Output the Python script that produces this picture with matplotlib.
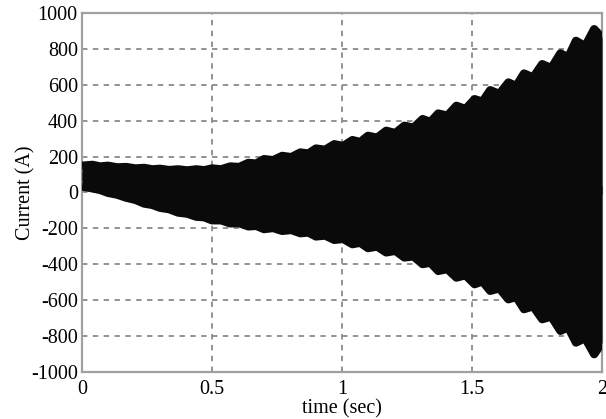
import numpy as np
import matplotlib.pyplot as plt
from matplotlib.transforms import offset_copy

plt.rcParams['font.family'] = ['Liberation Serif', 'DejaVu Serif']
plt.rcParams['axes.unicode_minus'] = False

# beat instants (s) where the envelope bulges outward
beat_t = [0.04, 0.10, 0.17, 0.24, 0.30, 0.37, 0.44, 0.50, 0.57, 0.64,
          0.70, 0.77, 0.84, 0.90, 0.97, 1.04, 1.10, 1.17, 1.24, 1.31,
          1.37, 1.44, 1.51, 1.57, 1.64, 1.70, 1.77, 1.84, 1.90, 1.97]
upper_bulge = [177, 172, 165, 160, 155, 152, 152, 157, 168, 188,
               209, 227, 246, 268, 292, 315, 339, 367, 395, 432,
               463, 506, 543, 593, 636, 686, 738, 798, 868, 933]
lower_bulge = [0, -25, -52, -85, -108, -135, -158, -178, -195, -212,
               -227, -237, -250, -268, -287, -311, -333, -357, -385, -422,
               -460, -497, -534, -571, -618, -673, -729, -794, -859, -924]

# instants (s) of the cusps between the bulges
dip_t = [0.07, 0.135, 0.205, 0.27, 0.335, 0.405, 0.47, 0.535, 0.605, 0.67,
         0.735, 0.805, 0.87, 0.935, 1.005, 1.07, 1.135, 1.205, 1.275, 1.34,
         1.405, 1.475, 1.54, 1.605, 1.67, 1.735, 1.805, 1.87, 1.935]
upper_dip = [168, 163, 157, 152, 148, 146, 147, 152, 165, 184,
             203, 220, 240, 261, 282, 304, 328, 354, 384, 416,
             451, 488, 529, 572, 616, 664, 716, 776, 838]
lower_dip = [-9, -35, -64, -92, -116, -141, -161, -178, -194, -209,
             -221, -232, -246, -263, -282, -303, -324, -348, -379, -414,
             -450, -484, -518, -557, -605, -657, -714, -774, -834]

# values at the two ends of the record
end_t = [0.0, 2.0]
upper_end = [172, 887]
lower_end = [10, -860]

# merge bulges and cusps into one outline per side
t_all = np.array(end_t + beat_t + dip_t)
order = np.argsort(t_all)
t_env = t_all[order]
up_env = np.array(upper_end + upper_bulge + upper_dip)[order]
lo_env = np.array(lower_end + lower_bulge + lower_dip)[order]
mid_env = (up_env + lo_env) / 2

fig = plt.figure(figsize=(6.06, 4.19), dpi=100)
ax = fig.add_axes([0.1353, 0.1122, 0.8581, 0.8568])

# thick round-joined outline gives the rounded bulges; shift it inward by half its width
lw = 6.0
ink = '#0a0a0a'
tr_up = offset_copy(ax.transData, fig=fig, y=-lw / 2, units='points')
tr_lo = offset_copy(ax.transData, fig=fig, y=lw / 2, units='points')
ax.fill_between(t_env, mid_env, up_env, color=ink, lw=0, transform=tr_up, zorder=3)
ax.fill_between(t_env, lo_env, mid_env, color=ink, lw=0, transform=tr_lo, zorder=3)
ax.plot(t_env, up_env, color=ink, lw=lw, solid_joinstyle='round',
        solid_capstyle='butt', transform=tr_up, zorder=3)
ax.plot(t_env, lo_env, color=ink, lw=lw, solid_joinstyle='round',
        solid_capstyle='butt', transform=tr_lo, zorder=3)

ax.set_xlim(0, 2)
ax.set_ylim(-1000, 1000)
ax.set_xticks([0, 0.5, 1, 1.5, 2])
ax.set_xticklabels(['0', '0.5', '1', '1.5', '2'])
ax.set_yticks(np.arange(-1000, 1001, 200))
ax.tick_params(length=0, labelsize=14.5, colors='black')
ax.tick_params(axis='x', pad=6)
ax.tick_params(axis='y', pad=3)
ax.grid(True, color='#8a8a8a', linestyle=(0, (3, 3)), linewidth=1.3, zorder=0)
ax.set_axisbelow(True)
for s in ax.spines.values():
    s.set_color('#a0a0a0')
    s.set_linewidth(1.6)

ax.set_xlabel('time (sec)', fontsize=14.5, labelpad=0)
ax.set_ylabel('Current (A)', fontsize=14.5, labelpad=-3)

fig.savefig('out.png', dpi=100)
